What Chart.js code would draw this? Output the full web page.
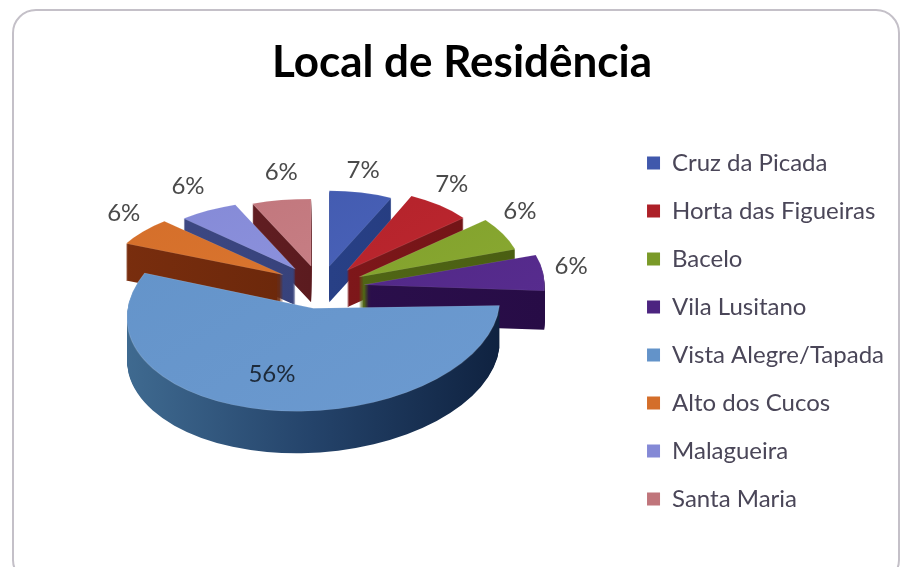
<!DOCTYPE html>
<html><head><meta charset="utf-8">
<script src="https://cdn.jsdelivr.net/npm/chart.js@4"></script>
<style>
html,body{margin:0;padding:0;width:903px;height:567px;overflow:hidden;background:#fff}
#frame{position:absolute;left:12px;top:9px;width:888px;height:575px;border:2px solid #c4c0c8;border-radius:24px;box-sizing:border-box}
canvas{position:absolute;left:0;top:0}
</style></head>
<body><div id="frame"></div><canvas id="c" width="903" height="567"></canvas>
<script>
const categories = ["Cruz da Picada","Horta das Figueiras","Bacelo","Vila Lusitano","Vista Alegre/Tapada","Alto dos Cucos","Malagueira","Santa Maria"];
const values = [7,7,6,6,56,6,6,6];
const topColors = ["#4058ac","#ad2028","#7a9a28","#4c2480","#6393c9","#d46e2a","#8489d6","#c0757b"];
const topLight = ["#4f68c0","#c42a32","#8ead34","#5a2e92","#6c9ad0","#de7a32","#9298e2","#cc868c"];
const wallLeft = ["#2c4690","#8c1a1e","#566e18","#2e1150","#3f6a90","#7a2e0e","#3f4a86","#6a2226"];
const wallRight = ["#243a7c","#701416","#4a5e12","#270c46","#0f2240","#5e2208","#2f3a70","#4c1418"];
const labelNudge = [[2,-22],[12,-21],[17,-23],[28,-6],[5,-33],[-19,-18],[-20,-24],[0,-28]];

const shiftX = -2, shiftY = -43.5, explode = 45, explodeY = 0.48, frontShear = -0.05;

function geom(arc){
  const a = (arc.startAngle + arc.endAngle) / 2;
  const z = -Math.sin(a), s = Math.cos(a);
  const back = z > 0, left = s < 0;
  return {a, z,
    cx: arc.x + shiftX + explode * s - (back ? 5 : 0),
    cy: arc.y + shiftY + explode * explodeY * Math.sin(a),
    rx: 168.5 - 18.5 * z + 16 * s * s * s * s + (back ? (left ? 9 : -5 * Math.min(1, z * 2)) : 0),
    ry: 88 - 15 * z + (back ? (left ? -6 : 10 * s) : 0),
    shear: back ? 0 : frontShear,
    depth: 39 - 3 * z};
}
const pie3d = {
  id:'pie3d',
  beforeDatasetsDraw(chart){
    const ctx = chart.ctx, arcs = chart.getDatasetMeta(0).data;
    const order = arcs.map((arc,i)=>({arc,i,g:geom(arc)})).sort((p,q)=>q.g.z-p.g.z);
    order.forEach(({arc,i,g})=>{
      const R = arc.outerRadius, base = arc.options;
      const draw = (dy, fill, bw, bc) => {
        ctx.save();
        ctx.translate(g.cx, g.cy + dy);
        ctx.transform(1, g.shear, 0, 1, 0, 0);
        ctx.scale(g.rx / R, g.ry / R);
        ctx.translate(-arc.x, -arc.y);
        arc.options = Object.assign(Object.create(base), {backgroundColor: fill, borderWidth: bw, borderColor: bc});
        arc.draw(ctx);
        arc.options = base;
        ctx.restore();
      };
      const wg = ctx.createLinearGradient(arc.x - R, 0, arc.x + R, 0);
      wg.addColorStop(0, wallLeft[i]);
      wg.addColorStop(i === 4 ? 0.5 : 1, i === 4 ? "#24436a" : wallRight[i]);
      if (i === 4) wg.addColorStop(1, wallRight[i]);
      for (let d = Math.round(g.depth); d >= 1; d--) draw(d, wg, 0, 'transparent');
      const tg = ctx.createLinearGradient(arc.x - R, arc.y - R, arc.x + R, arc.y + R);
      tg.addColorStop(0, topColors[i]);
      tg.addColorStop(1, topLight[i]);
      draw(0, tg, 1.5, 'rgba(255,255,255,0.14)');
    });
    return false;
  },
  afterDraw(chart){
    const ctx = chart.ctx, arcs = chart.getDatasetMeta(0).data;
    ctx.save();
    ctx.font = '24px Lato';
    ctx.textAlign = 'center';
    ctx.textBaseline = 'middle';
    arcs.forEach((arc,i)=>{
      const g = geom(arc);
      ctx.fillStyle = i === 4 ? '#1d2a3a' : '#4a4a4a';
      ctx.fillText(values[i] + '%',
        g.cx + g.rx * Math.cos(g.a) + labelNudge[i][0],
        g.cy + g.ry * Math.sin(g.a) + labelNudge[i][1]);
    });
    ctx.restore();
  }
};
new Chart(document.getElementById('c'), {
  type:'pie',
  data:{labels:categories, datasets:[{data:values, backgroundColor:topColors, borderWidth:0}]},
  plugins:[pie3d],
  options:{
    responsive:false, animation:false, rotation:0,
    layout:{padding:{left:30,top:22,right:9,bottom:0}},
    plugins:{
      tooltip:{enabled:false},
      title:{display:true, text:'Local de Residência', color:'#000', font:{family:'Lato',size:44,weight:'bold'}, padding:{top:14,bottom:6}},
      legend:{position:'right', fullSize:false, labels:{boxWidth:13, boxHeight:13, padding:24, color:'#4a4658', font:{family:'Lato',size:24}}}
    }
  }
});
</script></body></html>
